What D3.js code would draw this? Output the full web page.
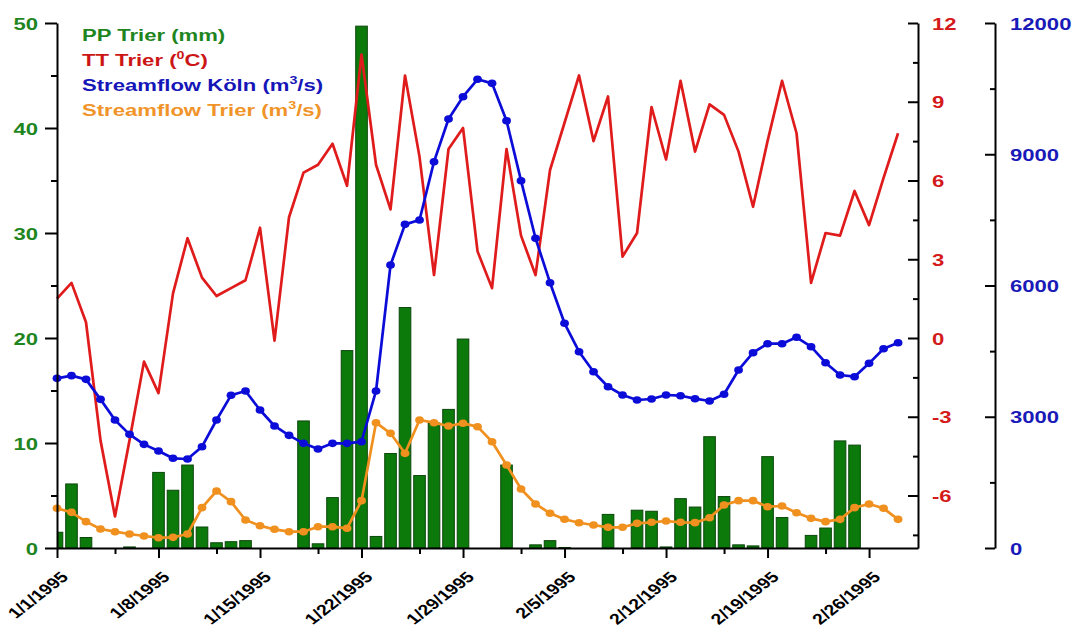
<!DOCTYPE html>
<html>
<head>
<meta charset="utf-8">
<script src="https://cdn.jsdelivr.net/npm/d3@7"></script>
<style>
body { margin: 0; background: #fff; }
svg { display: block; }
text { font-family: "Liberation Sans", Arial, sans-serif; font-weight: bold; }
</style>
</head>
<body>
<script>
// daily series, 1/1/1995 .. 2/28/1995
var ppTrier = [1.5, 6.1, 1.0, 0, 0, 0.1, 0, 7.2, 5.5, 7.9,
    2.0, 0.5, 0.6, 0.7, 0, 0, 0, 12.1, 0.4, 4.8,
    18.8, 49.7, 1.1, 9.0, 22.9, 6.9, 11.9, 13.2, 19.9, 0,
    0, 7.9, 0, 0.3, 0.7, 0.05, 0, 0, 3.2, 0,
    3.6, 3.5, 0.1, 4.7, 3.9, 10.6, 4.9, 0.3, 0.2, 8.7,
    2.9, 0, 1.2, 1.9, 10.2, 9.8, 0, 0, 0];

var ttTrier = [1.5, 2.1, 0.6, -3.9, -6.8, -3.9, -0.9, -2.1, 1.7, 3.8,
    2.3, 1.6, 1.9, 2.2, 4.2, -0.1, 4.6, 6.3, 6.6, 7.4,
    5.8, 10.8, 6.6, 4.9, 10.0, 6.9, 2.4, 7.2, 8.0, 3.3,
    1.9, 7.2, 3.9, 2.4, 6.4, 8.2, 10.0, 7.5, 9.2, 3.1,
    4.0, 8.8, 6.8, 9.8, 7.1, 8.9, 8.5, 7.1, 5.0, 7.5,
    9.8, 7.8, 2.1, 4.0, 3.9, 5.6, 4.3, 6.1, 7.8];

var flowKoln = [3878, 3939, 3855, 3398, 2926, 2598, 2369, 2217, 2050, 2034,
    2316, 2926, 3490, 3589, 3154, 2789, 2575, 2392, 2263, 2392,
    2392, 2430, 3589, 6469, 7398, 7497, 8830, 9806, 10316, 10713,
    10621, 9767, 8396, 7079, 6064, 5136, 4487, 4030, 3687, 3497,
    3383, 3406, 3497, 3481, 3413, 3360, 3513, 4069, 4464, 4670,
    4670, 4816, 4601, 4236, 3954, 3916, 4221, 4555, 4693];

var flowTrier = [907, 815, 602, 434, 373, 320, 274, 236, 244, 320,
    922, 1303, 1059, 640, 510, 427, 373, 373, 487, 487,
    450, 1082, 2864, 2621, 2164, 2926, 2864, 2789, 2850, 2773,
    2430, 1897, 1349, 1006, 793, 656, 578, 526, 473, 473,
    564, 587, 617, 587, 579, 693, 983, 1082, 1082, 944,
    960, 807, 678, 602, 655, 922, 1006, 907, 655];

var xTickLabels = ['1/1/1995', '1/8/1995', '1/15/1995', '1/22/1995', '1/29/1995',
    '2/5/1995', '2/12/1995', '2/19/1995', '2/26/1995'];
var ppTicks = [0, 10, 20, 30, 40, 50];
var ppMinor = [5, 15, 25, 35, 45];
var ttTicks = [-6, -3, 0, 3, 6, 9, 12];
var ttMinor = [-7.5, -4.5, -1.5, 1.5, 4.5, 7.5, 10.5];
var qTicks = [0, 3000, 6000, 9000, 12000];
var qMinor = [1500, 4500, 7500, 10500];

var legendItems = [
    { pre: 'PP Trier (mm)', sup: '', post: '', color: '#1f861f' },
    { pre: 'TT Trier (', sup: '0', post: 'C)', color: '#cc1616' },
    { pre: 'Streamflow Köln (m', sup: '3', post: '/s)', color: '#1616b8' },
    { pre: 'Streamflow Trier (m', sup: '3', post: '/s)', color: '#f0942a' }
];

var width = 1072, height = 626;
var stretch = 1.3;   // the picture is wide, text looks stretched
var plainNum = function(d) { return String(d); };   // hyphen minus, no thousands comma

var start = new Date(Date.UTC(1995, 0, 1));
var days = d3.utcDay.range(start, d3.utcDay.offset(start, ppTrier.length));
var majorDates = xTickLabels.map(function(d, i) { return d3.utcDay.offset(start, 7 * i); });
var minorDates = majorDates.map(function(d) { return d3.utcDay.offset(d, 4); })
    .filter(function(d) { return d < d3.utcDay.offset(start, 59); });

var x = d3.scaleUtc()
    .domain([start, d3.utcHour.offset(start, 59.4 * 24)])
    .range([57, 918]);
var yPP = d3.scaleLinear().domain([0, 50]).range([548, 23]);
var yTT = d3.scaleLinear().domain([-8, 12]).range([548, 23]);
var yQ = d3.scaleLinear().domain([0, 12000]).range([548, 23]);

var svg = d3.select('body').append('svg')
    .attr('width', width)
    .attr('height', height);

svg.append('defs').append('clipPath')
    .attr('id', 'plot_clip')
    .append('rect')
    .attr('x', 57).attr('y', 0)
    .attr('width', 918 - 57).attr('height', 548);

// bars
var dayPx = x(days[1]) - x(days[0]);
var barW = dayPx * 0.8;
var barG = svg.append('g').attr('clip-path', 'url(#plot_clip)');
ppTrier.forEach(function(v, i) {
    if (v <= 0) return;
    barG.append('rect')
        .attr('x', x(days[i]) - barW / 2)
        .attr('y', yPP(v))
        .attr('width', barW)
        .attr('height', yPP(0) - yPP(v))
        .attr('fill', '#0b7a0b')
        .attr('stroke', '#0b460b')
        .attr('stroke-width', 1);
});

function drawLine(values, yScale, color, markers) {
    var line = d3.line()
        .x(function(d, i) { return x(days[i]); })
        .y(function(d) { return yScale(d); });
    svg.append('path')
        .datum(values)
        .attr('d', line)
        .attr('fill', 'none')
        .attr('stroke', color)
        .attr('stroke-width', 2.7)
        .attr('stroke-linejoin', 'round');
    if (markers) {
        svg.append('g').selectAll('ellipse').data(values).enter()
            .append('ellipse')
            .attr('cx', function(d, i) { return x(days[i]); })
            .attr('cy', function(d) { return yScale(d); })
            .attr('rx', 4.4)
            .attr('ry', 3.8)
            .attr('fill', color);
    }
}

drawLine(ttTrier, yTT, '#e01b1b', false);
drawLine(flowKoln, yQ, '#0c0cd8', true);
drawLine(flowTrier, yQ, '#f0901f', true);

function styleAxis(g, color, size, tx, ty, extra) {
    g.attr('font-size', null).attr('font-family', null);
    g.select('.domain').attr('stroke', '#000').attr('stroke-width', 2);
    g.selectAll('.tick line').attr('stroke', '#000').attr('stroke-width', 2);
    g.selectAll('.tick text')
        .attr('x', 0).attr('y', 0)
        .attr('fill', color)
        .style('font-size', size + 'px')
        .attr('transform', 'translate(' + tx + ',' + ty + ') scale(' + stretch + ',1)' + (extra || ''));
}

function minorTicks(axis, pos) {
    var g = svg.append('g').attr('transform', pos).call(axis);
    g.select('.domain').remove();
    g.selectAll('.tick line').attr('stroke', '#000').attr('stroke-width', 2);
    g.selectAll('.tick text').remove();
}

// left axis (PP)
var gL = svg.append('g').attr('transform', 'translate(57,0)')
    .call(d3.axisLeft(yPP).tickValues(ppTicks).tickFormat(plainNum).tickSize(12).tickSizeOuter(0));
styleAxis(gL, '#1f861f', 17, -19, 0);
gL.selectAll('.tick text').attr('dy', '0.36em');
minorTicks(d3.axisLeft(yPP).tickValues(ppMinor).tickSize(6).tickSizeOuter(0), 'translate(57,0)');

// red axis (TT)
var gT = svg.append('g').attr('transform', 'translate(918,0)')
    .call(d3.axisRight(yTT).tickValues(ttTicks).tickFormat(plainNum).tickSize(-10).tickSizeOuter(0));
styleAxis(gT, '#d41a1a', 17, 14, 0);
gT.selectAll('.tick text').attr('dy', '0.36em');
minorTicks(d3.axisRight(yTT).tickValues(ttMinor).tickSize(-5).tickSizeOuter(0), 'translate(918,0)');

// blue axis (streamflow)
var gQ = svg.append('g').attr('transform', 'translate(995,0)')
    .call(d3.axisRight(yQ).tickValues(qTicks).tickFormat(plainNum).tickSize(-10).tickSizeOuter(0));
styleAxis(gQ, '#1a1ab8', 17, 15, 0);
gQ.selectAll('.tick text').attr('dy', '0.36em');
minorTicks(d3.axisRight(yQ).tickValues(qMinor).tickSize(-5).tickSizeOuter(0), 'translate(995,0)');

// x axis
var gX = svg.append('g').attr('transform', 'translate(0,548)')
    .call(d3.axisBottom(x).tickValues(majorDates).tickSize(10).tickSizeOuter(0)
        .tickFormat(function(d, i) { return xTickLabels[i]; }));
styleAxis(gX, '#000', 15, 12, 30, ' rotate(-45)');
gX.selectAll('.tick text').attr('dy', null).attr('text-anchor', 'end');
minorTicks(d3.axisBottom(x).tickValues(minorDates).tickSize(6).tickSizeOuter(0), 'translate(0,548)');

// legend, text only
legendItems.forEach(function(item, i) {
    var t = svg.append('text')
        .attr('transform', 'translate(82,' + (41 + 25 * i) + ') scale(' + stretch + ',1)')
        .attr('fill', item.color)
        .style('font-size', '17px');
    t.append('tspan').text(item.pre);
    if (item.sup) {
        t.append('tspan').attr('dy', -7).style('font-size', '11px').text(item.sup);
        t.append('tspan').attr('dy', 7).text(item.post);
    }
});
</script>
</body>
</html>
